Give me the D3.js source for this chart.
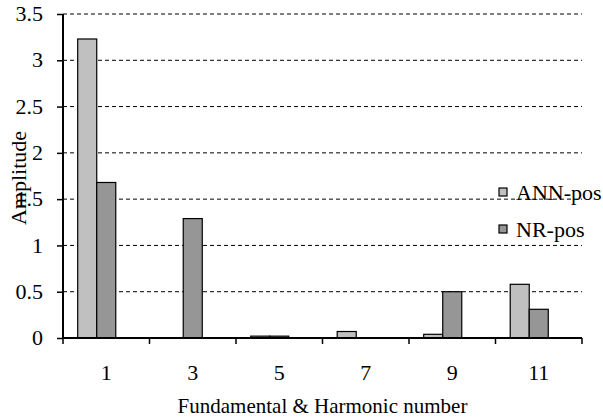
<!DOCTYPE html>
<html>
<head>
<meta charset="utf-8">
<script src="https://cdn.jsdelivr.net/npm/d3@7"></script>
<style>
  body { margin: 0; background: #fff; }
</style>
</head>
<body>
<div id="chart"></div>
<script>
// data
const harmonics = ["1", "3", "5", "7", "9", "11"];
const annPos = [3.23, 0, 0.02, 0.07, 0.04, 0.58];
const nrPos = [1.68, 1.29, 0.02, 0, 0.5, 0.31];
const seriesNames = ["ANN-pos", "NR-pos"];
const seriesColors = ["#c0c0c0", "#969696"];
const yTicks = [0, 0.5, 1, 1.5, 2, 2.5, 3, 3.5];

const font = "'Liberation Serif', 'Times New Roman', serif";

const margin = {top: 14, right: 21, bottom: 80, left: 63},
      width = 603 - margin.left - margin.right,
      height = 418 - margin.top - margin.bottom;

const svg = d3.select("#chart").append("svg")
              .attr("width", 603)
              .attr("height", 418)
              .append("g")
              .attr("transform", "translate(" + margin.left + "," + margin.top + ")");

const x0 = d3.scaleBand().domain(harmonics).range([0, width])
             .paddingInner(0.34).paddingOuter(0.17);
// three slots per cluster, the last one is empty
const x1 = d3.scaleBand().domain(["ANN-pos", "NR-pos", "_"]).range([0, x0.bandwidth()]);
const y = d3.scaleLinear().domain([0, 3.5]).range([height, 0]);

const step = x0.step();

// gridlines
svg.append("g")
   .selectAll("line")
   .data(yTicks.filter(d => d > 0))
   .enter().append("line")
   .attr("x1", 0).attr("x2", width)
   .attr("y1", d => y(d)).attr("y2", d => y(d))
   .attr("stroke", "#000")
   .attr("stroke-width", 1)
   .attr("stroke-dasharray", "4,3");

// bars
const rows = harmonics.map((h, i) => ({h: h, vals: [annPos[i], nrPos[i]]}));
const groups = svg.selectAll(".grp")
   .data(rows)
   .enter().append("g")
   .attr("transform", d => "translate(" + x0(d.h) + ",0)");

groups.selectAll("rect")
   .data(d => d.vals.map((v, k) => ({k: k, v: v})).filter(e => e.v > 0))
   .enter().append("rect")
   .attr("x", e => x1(seriesNames[e.k]))
   .attr("width", x1.bandwidth())
   .attr("y", e => y(e.v))
   .attr("height", e => height - y(e.v))
   .attr("fill", e => seriesColors[e.k])
   .attr("stroke", "#000")
   .attr("stroke-width", 1.2);

// y axis
const yAxis = svg.append("g")
   .call(d3.axisLeft(y).tickValues(yTicks).tickFormat(d3.format("")).tickSize(6).tickPadding(14));
yAxis.attr("font-family", null);
yAxis.select(".domain").attr("stroke-width", 2).attr("d", "M0," + height + "V0");
yAxis.selectAll(".tick line").attr("stroke-width", 1.5);
yAxis.selectAll("text")
     .style("font-family", font)
     .style("font-size", "22px")
     .attr("fill", "#000")
     .attr("dy", "0.3em");

// x axis: ticks at category boundaries, labels at centers
const xg = svg.append("g").attr("transform", "translate(0," + height + ")");
xg.append("line").attr("x1", 0).attr("x2", width).attr("stroke", "#000").attr("stroke-width", 2);
xg.selectAll(".bt")
  .data(d3.range(harmonics.length + 1))
  .enter().append("line")
  .attr("x1", i => i * step).attr("x2", i => i * step)
  .attr("y1", 0).attr("y2", 6)
  .attr("stroke", "#000").attr("stroke-width", 1.5);
xg.selectAll(".lbl")
  .data(harmonics)
  .enter().append("text")
  .attr("x", d => x0(d) + x0.bandwidth() / 2)
  .attr("y", 42)
  .attr("text-anchor", "middle")
  .style("font-family", font)
  .style("font-size", "22px")
  .text(d => d);

// axis titles
svg.append("text")
   .attr("text-anchor", "middle")
   .attr("transform", "translate(" + (width / 2) + "," + (height + 75) + ")")
   .style("font-family", font)
   .style("font-size", "21px")
   .text("Fundamental & Harmonic number");

svg.append("text")
   .attr("text-anchor", "middle")
   .attr("transform", "translate(" + (26 - margin.left) + "," + (178 - margin.top) + ")rotate(-90)")
   .style("font-family", font)
   .style("font-size", "22px")
   .text("Amplitude");

// legend
const legend = svg.append("g").attr("transform", "translate(" + (499 - margin.left) + "," + (188 - margin.top) + ")");
const items = legend.selectAll("g")
   .data(seriesNames)
   .enter().append("g")
   .attr("transform", (d, i) => "translate(0," + (i * 37) + ")");
items.append("rect")
   .attr("width", 8).attr("height", 8)
   .attr("fill", (d, i) => seriesColors[i])
   .attr("stroke", "#000").attr("stroke-width", 1.2);
items.append("text")
   .attr("x", 17).attr("y", 12)
   .style("font-family", font)
   .style("font-size", "22px")
   .text(d => d);
</script>
</body>
</html>
